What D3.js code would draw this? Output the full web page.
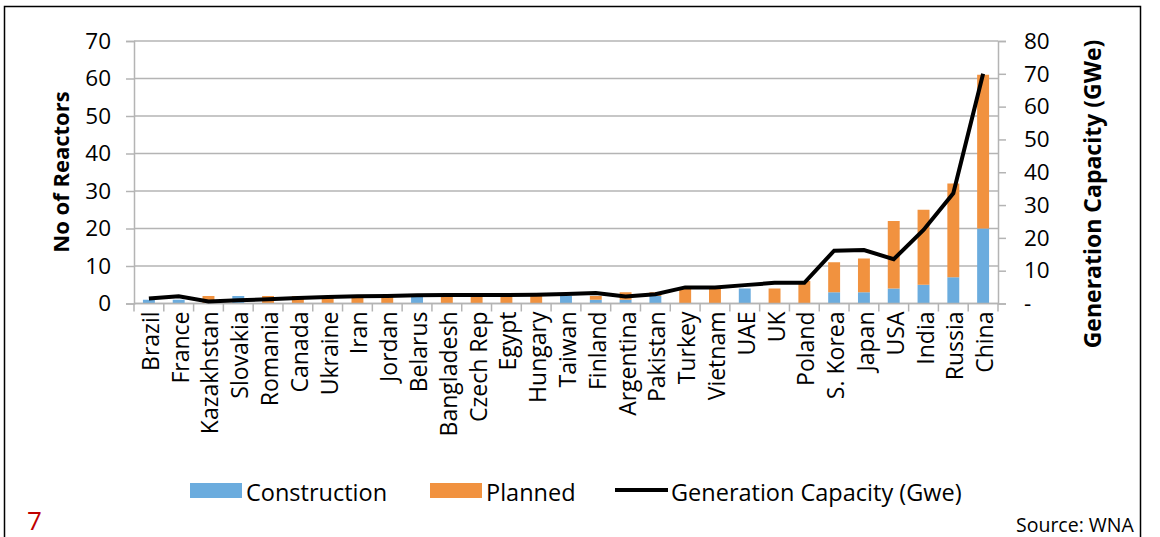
<!DOCTYPE html>
<html>
<head>
<meta charset="utf-8">
<script src="https://cdn.jsdelivr.net/npm/d3@7"></script>
<style>
  body { margin: 0; background: #fff; }
  svg { display: block; font-family: "Open Sans", sans-serif; }
</style>
</head>
<body>
<svg id="chart" width="1160" height="537"></svg>
<script>
// Reactors under construction / planned, and new generation capacity, by country
const countries = ["Brazil", "France", "Kazakhstan", "Slovakia", "Romania", "Canada", "Ukraine", "Iran",
  "Jordan", "Belarus", "Bangladesh", "Czech Rep", "Egypt", "Hungary", "Taiwan", "Finland", "Argentina",
  "Pakistan", "Turkey", "Vietnam", "UAE", "UK", "Poland", "S. Korea", "Japan", "USA", "India", "Russia", "China"];
const construction = [1, 1, 0, 2, 0, 0, 0, 0, 0, 2, 0, 0, 0, 0, 2, 1, 1, 2, 0, 0, 4, 0, 0, 3, 3, 4, 5, 7, 20];
const planned      = [0, 0, 2, 0, 2, 2, 2, 2, 2, 0, 2, 2, 2, 2, 0, 1, 2, 1, 4, 4, 0, 4, 6, 8, 9, 18, 20, 25, 41];
const capacityGWe  = [1.5, 2.2, 0.6, 1.0, 1.3, 1.7, 2.0, 2.2, 2.3, 2.5, 2.6, 2.6, 2.6, 2.7, 2.9, 3.2, 2.1,
  2.8, 4.9, 4.9, 5.6, 6.3, 6.3, 16.1, 16.3, 13.5, 22.4, 33.6, 70];
const reactorTicks  = [0, 10, 20, 30, 40, 50, 60, 70];
const capacityTicks = [0, 10, 20, 30, 40, 50, 60, 70, 80];

const seriesKeys = ["Construction", "Planned"];
const colors = { Construction: "#6BACDE", Planned: "#F1923F" };

const svg = d3.select("#chart");
const plot = { left: 134, right: 998, top: 41, bottom: 303.5 };

// outer frame
svg.append("rect").attr("x", 4.5).attr("y", 6.5).attr("width", 1136).attr("height", 560)
  .attr("fill", "none").attr("stroke", "#000").attr("stroke-width", 1.5);

const x = d3.scaleBand().domain(countries).range([plot.left, plot.right])
  .paddingInner(0.6).paddingOuter(0.3);
const yL = d3.scaleLinear().domain([0, 70]).range([plot.bottom, plot.top]);
const yR = d3.scaleLinear().domain([0, 80]).range([plot.bottom, plot.top]);

const gridColor = "#b4b4b4";

// horizontal gridlines
svg.append("g").selectAll("line").data(reactorTicks).join("line")
  .attr("x1", plot.left).attr("x2", plot.right)
  .attr("y1", d => yL(d)).attr("y2", d => yL(d))
  .attr("stroke", gridColor).attr("stroke-width", 1.5);

// stacked bars
const table = countries.map((c, i) => ({ country: c, Construction: construction[i], Planned: planned[i] }));
const stacked = d3.stack().keys(seriesKeys)(table);
svg.append("g").selectAll("g").data(stacked).join("g")
  .attr("fill", d => colors[d.key])
  .selectAll("rect").data(d => d).join("rect")
  .attr("x", d => x(d.data.country))
  .attr("width", x.bandwidth())
  .attr("y", d => yL(d[1]))
  .attr("height", d => yL(d[0]) - yL(d[1]));

// left axis
const axL = svg.append("g").attr("transform", `translate(${plot.left},0)`)
  .call(d3.axisLeft(yL).tickValues(reactorTicks).tickSize(8).tickPadding(15));
axL.select(".domain").attr("stroke", gridColor).attr("stroke-width", 1.5);
axL.selectAll(".tick line").attr("stroke", gridColor).attr("stroke-width", 1.5);
axL.selectAll(".tick text").attr("font-size", 22.5).attr("fill", "#000")
  .attr("font-family", "'Open Sans', sans-serif");

// right axis (zero shown as a dash)
const axR = svg.append("g").attr("transform", `translate(${plot.right},0)`)
  .call(d3.axisRight(yR).tickValues(capacityTicks).tickSize(8).tickPadding(18)
    .tickFormat(d => d === 0 ? "-" : d));
axR.select(".domain").attr("stroke", gridColor).attr("stroke-width", 1.5);
axR.selectAll(".tick line").attr("stroke", gridColor).attr("stroke-width", 1.5);
axR.selectAll(".tick text").attr("font-size", 22.5).attr("fill", "#000")
  .attr("font-family", "'Open Sans', sans-serif");

// category axis: ticks at band boundaries, vertical labels
const step = x.step();
const boundaries = countries.map(c => x(c) - step * x.paddingInner() / 2)
  .concat([x(countries[countries.length - 1]) + x.bandwidth() + step * x.paddingInner() / 2]);
const gx = svg.append("g");
gx.append("line").attr("x1", plot.left).attr("x2", plot.right)
  .attr("y1", plot.bottom).attr("y2", plot.bottom)
  .attr("stroke", gridColor).attr("stroke-width", 1.5);
gx.selectAll("line.tk").data(boundaries).join("line").attr("class", "tk")
  .attr("x1", d => d).attr("x2", d => d)
  .attr("y1", plot.bottom).attr("y2", plot.bottom + 8)
  .attr("stroke", gridColor).attr("stroke-width", 1.5);
gx.selectAll("text").data(countries).join("text")
  .attr("transform", d => `translate(${x(d) + x.bandwidth() / 2 + 10},${plot.bottom + 8}) rotate(-90)`)
  .attr("text-anchor", "end")
  .attr("font-size", 23)
  .text(d => d);

// generation capacity line
const line = d3.line()
  .x((d, i) => x(countries[i]) + x.bandwidth() / 2)
  .y(d => yR(d));
svg.append("path").datum(capacityGWe)
  .attr("d", line).attr("fill", "none")
  .attr("stroke", "#000").attr("stroke-width", 4).attr("stroke-linejoin", "miter");

// axis titles
svg.append("text").attr("transform", "translate(69,172) rotate(-90)")
  .attr("text-anchor", "middle").attr("font-size", 22).attr("font-weight", "bold")
  .text("No of Reactors");
svg.append("text").attr("transform", "translate(1101,194) rotate(-90)")
  .attr("text-anchor", "middle").attr("font-size", 23).attr("font-weight", "bold")
  .text("Generation Capacity (GWe)");

// legend
const legend = svg.append("g");
const legendItems = [
  { label: "Construction", type: "rect", color: colors.Construction, x: 190 },
  { label: "Planned", type: "rect", color: colors.Planned, x: 430 },
  { label: "Generation Capacity (Gwe)", type: "line", color: "#000", x: 615 }
];
legendItems.forEach(it => {
  if (it.type === "rect") {
    legend.append("rect").attr("x", it.x).attr("y", 483).attr("width", 52).attr("height", 15)
      .attr("fill", it.color);
  } else {
    legend.append("line").attr("x1", it.x).attr("x2", it.x + 53).attr("y1", 490).attr("y2", 490)
      .attr("stroke", it.color).attr("stroke-width", 4);
  }
  legend.append("text").attr("x", it.x + 56).attr("y", 501).attr("font-size", 23.5).text(it.label);
});

// slide number and source note
svg.append("text").attr("x", 27).attr("y", 530).attr("font-size", 26).attr("fill", "#C00000").text("7");
svg.append("text").attr("x", 1016).attr("y", 532).attr("font-size", 19.5).text("Source: WNA");
</script>
</body>
</html>
